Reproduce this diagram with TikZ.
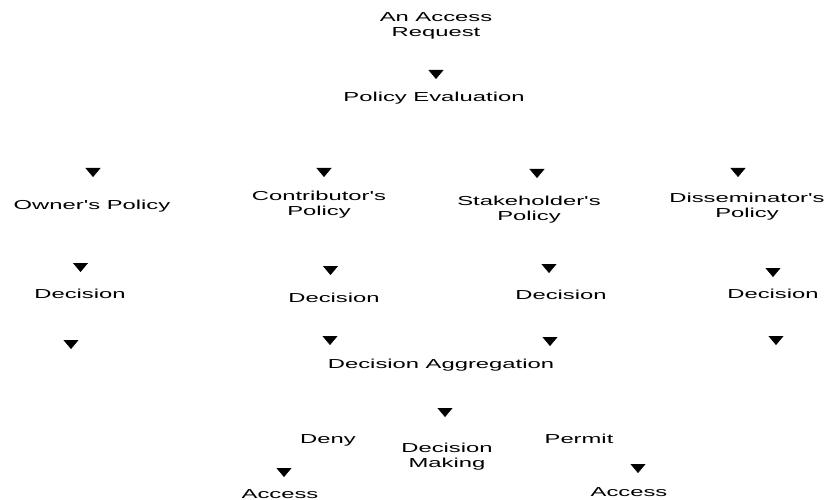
\documentclass[tikz,border=0pt]{standalone}
\usepackage{fontspec}
\setmainfont{Liberation Sans}
\usepackage{graphicx}
\usetikzlibrary{arrows.meta,backgrounds}
\newcommand\wtxt[1]{\scalebox{1.83}[1]{#1}}
\newcommand\aps{\textquotesingle}
\tikzset{
  lbl/.style={inner sep=0pt, align=center, font=\fontsize{13}{15}\selectfont},
  link/.style={draw=white, line width=0.4pt, -{Triangle[length=9pt,width=15pt,color=black,fill=black]}}
}
\begin{document}
\begin{tikzpicture}[x=1pt,y=-1pt]
\useasboundingbox (0,0) rectangle (825,500);
% nodes
\node[lbl,anchor=north] (req) at (436,12.5) {\wtxt{An Access}\\\wtxt{Request}};
\node[lbl,anchor=base] (pe) at (434,102) {\wtxt{Policy Evaluation}};
\node[lbl,anchor=base] (op) at (92,209) {\wtxt{Owner\aps s Policy}};
\node[lbl,anchor=north] (cp) at (319,190.5) {\wtxt{Contributor\aps s}\\\wtxt{Policy}};
\node[lbl,anchor=north] (sp) at (529,195.5) {\wtxt{Stakeholder\aps s}\\\wtxt{Policy}};
\node[lbl,anchor=north] (dp) at (747,192.5) {\wtxt{Disseminator\aps s}\\\wtxt{Policy}};
\node[lbl,anchor=base] (d1) at (80,298) {\wtxt{Decision}};
\node[lbl,anchor=base] (d2) at (334,302) {\wtxt{Decision}};
\node[lbl,anchor=base] (d3) at (561,299) {\wtxt{Decision}};
\node[lbl,anchor=base] (d4) at (773,298) {\wtxt{Decision}};
\node[lbl,anchor=base] (da) at (441,368) {\wtxt{Decision Aggregation}};
\node[lbl,anchor=north] (dm) at (447,442.5) {\wtxt{Decision}\\\wtxt{Making}};
\node[lbl,anchor=base] (deny) at (328,443) {\wtxt{Deny}};
\node[lbl,anchor=base] (permit) at (579,443) {\wtxt{Permit}};
\node[lbl,anchor=base] (al) at (280,498) {\wtxt{Access}};
\node[lbl,anchor=base] (ar) at (629,496.5) {\wtxt{Access}};
% arrow end points
\coordinate (t0) at (436,79);
\coordinate (p1) at (93,177);
\coordinate (p2) at (324,177);
\coordinate (p3) at (537,178);
\coordinate (p4) at (738,177);
\coordinate (q1) at (80.5,272);
\coordinate (q2) at (330.5,275);
\coordinate (q3) at (549,273);
\coordinate (q4) at (773,277);
\coordinate (r1) at (71,349);
\coordinate (r2) at (330,345);
\coordinate (r3) at (550,346);
\coordinate (r4) at (776,345);
\coordinate (tm) at (445,417);
\coordinate (tl) at (284,477);
\coordinate (tr) at (638,473);
% connectors
\begin{scope}[on background layer]
\draw[link] (t0 |- req.south) -- (t0);
\draw[link] (pe.south) -| (p1);
\draw[link] (pe.south) -| (p2);
\draw[link] (pe.south) -| (p3);
\draw[link] (pe.south) -| (p4);
\draw[link] (q1 |- op.south) -- (q1);
\draw[link] (q2 |- cp.south) -- (q2);
\draw[link] (q3 |- sp.south) -- (q3);
\draw[link] (q4 |- dp.south) -- (q4);
\draw[link] (r1 |- d1.south) -- (r1);
\draw[link] (r2 |- d2.south) -- (r2);
\draw[link] (r3 |- d3.south) -- (r3);
\draw[link] (r4 |- d4.south) -- (r4);
\draw[link] (tm |- da.south) -- (tm);
\draw[link] (dm.west) -| (tl);
\draw[link] (dm.east) -| (tr);
\end{scope}
\end{tikzpicture}
\end{document}
